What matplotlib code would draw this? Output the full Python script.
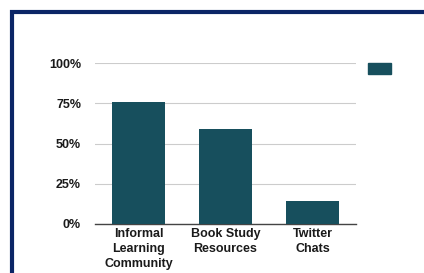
import matplotlib.pyplot as plt
from matplotlib.patches import Rectangle
from matplotlib.ticker import PercentFormatter

categories = ["Informal\nLearning\nCommunity", "Book Study\nResources", "Twitter\nChats"]
shares = [0.76, 0.59, 0.145]
yticks = [0, 0.25, 0.5, 0.75, 1.0]

BAR = '#174f5d'
NAVY = '#0b2566'

plt.rcParams['font.family'] = ['Liberation Sans', 'DejaVu Sans']

fig = plt.figure(figsize=(4.24, 2.73), dpi=100)
ax = fig.add_axes([95/424, 49/273, 261/424, 161/273])

x = range(len(categories))
ax.bar(x, shares, width=0.61, color=BAR, zorder=3)

ax.set_xlim(-0.5, 2.5)
ax.set_ylim(0, 1)
ax.set_yticks(yticks)
ax.yaxis.set_major_formatter(PercentFormatter(1.0, decimals=0))
ax.set_xticks(list(x))
ax.set_xticklabels(categories, fontsize=9, fontweight='bold', color='#1a1a1a', linespacing=1.3)
for lab in ax.get_yticklabels():
    lab.set_fontsize(9)
    lab.set_fontweight('bold')
    lab.set_color('#1a1a1a')

ax.grid(axis='y', color='#cccccc', linewidth=0.8, zorder=0)
for s in ['top', 'right', 'left']:
    ax.spines[s].set_visible(False)
ax.spines['bottom'].set_color('#444444')
ax.spines['bottom'].set_linewidth(1.0)
ax.tick_params(axis='both', length=0)
ax.tick_params(axis='y', pad=10)
ax.tick_params(axis='x', pad=3)

# legend swatch (no label text)
fig.patches.append(Rectangle((368/424, (273-74)/273), 23/424, 11/273,
                             transform=fig.transFigure, color=BAR, figure=fig))

# outer frame, runs off right and bottom edge
fig.patches.append(Rectangle((11.5/424, -0.1), 1.2, (273-11.5)/273 + 0.1,
                             transform=fig.transFigure, fill=False,
                             edgecolor=NAVY, linewidth=3, figure=fig))

fig.savefig('out.png', dpi=100)
